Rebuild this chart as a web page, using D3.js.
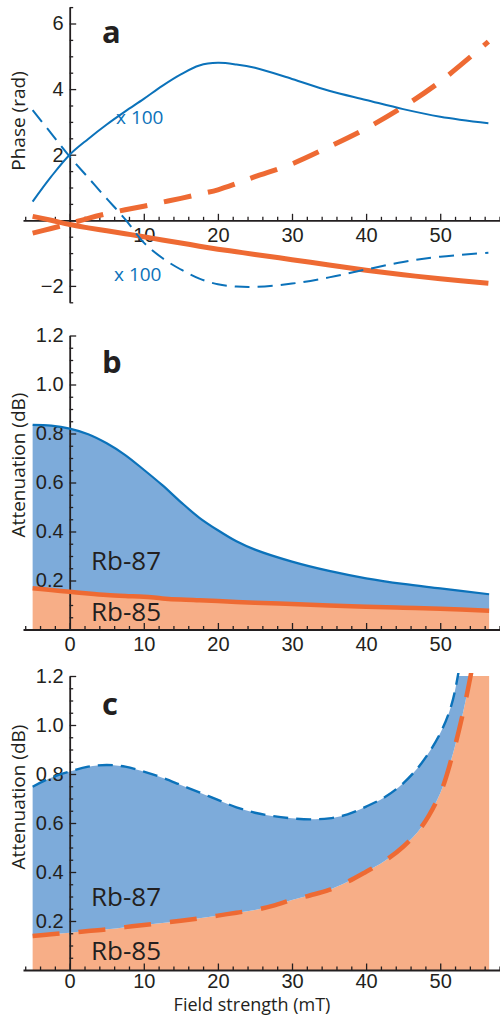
<!DOCTYPE html>
<meta charset="utf-8">
<head>
    <style>
        body { margin: 0; background: #fff; }
        .tick text { font-family: "Liberation Sans", Arial, sans-serif; font-size: 20px; fill: #231F20; }
        .lbl { font-family: "Open Sans", sans-serif; fill: #231F20; }
    </style>
    <script src="https://d3js.org/d3.v7.min.js"></script>
</head>
<div id="chart"></div>

<script>

// ---- data ----
// panel a : phase vs field
var fieldA = [-5,-2.5,0,2.5,5,7.5,10,12.5,15,17.5,20,22.5,25,30,35,40,45,50,56.5];
var phase87 = [0.57,1.33,2.0,2.48,2.92,3.32,3.7,4.1,4.45,4.72,4.8,4.75,4.65,4.31,3.95,3.67,3.39,3.16,2.96];      // x 100
var phase87dash = [3.36,2.65,1.94,1.3,0.66,0.03,-0.68,-1.15,-1.5,-1.78,-1.95,-2.02,-2.03,-1.93,-1.74,-1.5,-1.27,-1.11,-0.99]; // x 100
var phase85 = [0.12,0.0,-0.13,-0.23,-0.32,-0.41,-0.5,-0.6,-0.69,-0.79,-0.88,-0.96,-1.04,-1.2,-1.36,-1.52,-1.66,-1.78,-1.92];
var phase85dash = [-0.39,-0.25,-0.1,0.06,0.2,0.32,0.43,0.55,0.67,0.8,0.93,1.12,1.33,1.72,2.24,2.8,3.46,4.23,5.45];

// panel b : attenuation
var fieldB = [-5,-2.5,0,2.5,5,7.5,10,12.5,15,17.5,20,22.5,25,30,35,40,45,50,56.6];
var att87B = [0.835,0.832,0.82,0.797,0.76,0.712,0.652,0.589,0.52,0.456,0.405,0.36,0.326,0.277,0.239,0.209,0.186,0.168,0.144];
var att85B = [0.168,0.161,0.154,0.147,0.141,0.137,0.134,0.127,0.122,0.119,0.116,0.112,0.109,0.104,0.098,0.093,0.089,0.085,0.077];

// panel c : attenuation
var fieldC = [-5,-2.5,0,2.5,5,7.5,10,12.5,15,17.5,20,22.5,25,27.5,30,32.5,35,37.5,40,42.5,45,47.5,50,51.5,52.5,53.5,54.5,55.5,56.6];
var att87C = [0.748,0.785,0.81,0.83,0.837,0.83,0.81,0.785,0.755,0.725,0.694,0.664,0.642,0.628,0.619,0.615,0.619,0.635,0.667,0.705,0.762,0.845,0.966,1.08,1.22,1.4,1.6,1.85,2.1];
var att85C = [0.139,0.146,0.152,0.159,0.166,0.175,0.184,0.192,0.201,0.211,0.222,0.234,0.245,0.263,0.286,0.305,0.327,0.36,0.401,0.445,0.503,0.585,0.721,0.86,0.975,1.11,1.27,1.5,1.8];

var xMajor = [0,10,20,30,40,50];
var phaseTicks = [-2,0,2,4,6];
var attTicks = [0.2,0.4,0.6,0.8,1.0,1.2];

var blue = "#0B72BA", orange = "#EE6A33",
    blueFill = "#7DABDA", orangeFill = "#F7AE87", ink = "#231F20";

var W = 500, H = 1017;
var curve = d3.curveCatmullRom.alpha(0.5);

var svg = d3.select("#chart")
  .append("svg")
    .attr("width", W)
    .attr("height", H);

// shared x scale
var x = d3.scaleLinear().domain([-6.3, 58]).range([23, 499.5]);

var yA = d3.scaleLinear().domain([-2.5, 6.5]).range([302.3, 7.1]);
var yB = d3.scaleLinear().domain([0, 1.2]).range([629.5, 335.5]);
var yC = d3.scaleLinear().domain([0, 1.2]).range([970, 676]);

function zip(xs, ys) { return xs.map(function(v, i) { return {x: v, y: ys[i]}; }); }
function zip2(xs, lo, hi) { return xs.map(function(v, i) { return {x: v, lo: lo[i], hi: hi[i]}; }); }

function xAxis(yScale, showZero, pad) {
    var g = svg.append("g").attr("transform", "translate(0," + yScale(0) + ")");
    // minor ticks
    g.append("g")
      .call(d3.axisBottom(x).tickValues(d3.range(-6, 59, 2).filter(function(d){ return d % 10 != 0; }))
        .tickSizeInner(-3.5).tickSizeOuter(0).tickFormat(""))
      .call(function(s){ s.select(".domain").remove(); });
    g.append("g")
      .call(d3.axisBottom(x).tickValues(xMajor).tickSizeInner(-6.5).tickSizeOuter(0).tickPadding(pad)
        .tickFormat(function(d){ return (d == 0 && !showZero) ? "" : d; }));
    g.selectAll("line").attr("stroke", ink).attr("stroke-width", 1.3);
    g.selectAll(".domain").attr("stroke", ink).attr("stroke-width", 1.8);
    g.selectAll("text").attr("dy", "0.72em");
    return g;
}

function yAxis(yScale, majors, minors, fmt) {
    var g = svg.append("g").attr("transform", "translate(" + x(0) + ",0)");
    g.append("g")
      .call(d3.axisLeft(yScale).tickValues(minors).tickSizeInner(-3.5).tickSizeOuter(0).tickFormat(""))
      .call(function(s){ s.select(".domain").remove(); });
    g.append("g")
      .call(d3.axisLeft(yScale).tickValues(majors).tickSizeInner(-6.5).tickSizeOuter(0).tickPadding(6)
        .tickFormat(fmt));
    g.selectAll("line").attr("stroke", ink).attr("stroke-width", 1.3);
    g.selectAll(".domain").attr("stroke", ink).attr("stroke-width", 1.8);
    return g;
}

function drawLine(data, yScale, color, width, dash, clip) {
    var p = svg.append("path")
      .datum(data)
      .attr("fill", "none")
      .attr("stroke", color)
      .attr("stroke-width", width)
      .attr("d", d3.line().curve(curve)
          .x(function(d) { return x(d.x); })
          .y(function(d) { return yScale(d.y); }));
    if (dash) p.attr("stroke-dasharray", dash);
    if (clip) p.attr("clip-path", clip);
    return p;
}

function drawFills(field, lo, hi, yScale, clip) {
    var g = svg.append("g");
    if (clip) g.attr("clip-path", clip);
    g.append("path")
      .datum(zip(field, lo))
      .attr("fill", orangeFill)
      .attr("d", d3.area().curve(curve)
          .x(function(d) { return x(d.x); })
          .y0(yScale(0))
          .y1(function(d) { return yScale(d.y); }));
    g.append("path")
      .datum(zip2(field, lo, hi))
      .attr("fill", blueFill)
      .attr("d", d3.area().curve(curve)
          .x(function(d) { return x(d.x); })
          .y0(function(d) { return yScale(d.lo); })
          .y1(function(d) { return yScale(d.hi); }));
}

function label(txt, px, py, size, opts) {
    var t = svg.append("text")
      .attr("class", "lbl")
      .attr("x", px)
      .attr("y", py)
      .style("font-size", size + "px")
      .text(txt);
    if (opts && opts.bold) t.style("font-weight", "bold");
    if (opts && opts.color) t.style("fill", opts.color);
    if (opts && opts.rotate) t.attr("text-anchor", "middle").attr("transform", "rotate(-90," + px + "," + py + ")");
    if (opts && opts.anchor) t.attr("text-anchor", opts.anchor);
    return t;
}

var attMinor = d3.range(1, 24).map(function(i){ return i * 0.05; }).filter(function(d, i){ return (i + 1) % 4 != 0; });

// clip for panel c (values above 1.2 are cut)
var defs = svg.append("defs");
defs.append("clipPath").attr("id", "clipC")
  .append("rect").attr("x", 0).attr("y", yC(1.2)).attr("width", W).attr("height", yC(0) - yC(1.2) + 5);
defs.append("clipPath").attr("id", "clipCline")
  .append("rect").attr("x", 0).attr("y", yC(1.2) - 3).attr("width", W).attr("height", yC(0) - yC(1.2) + 8);

// ---------- panel a ----------
xAxis(yA, false, 7.5);
yAxis(yA, phaseTicks, d3.range(-2.5, 6.6, 0.5).filter(function(d){ return d % 2 != 0; }),
      function(d){ return d == 0 ? "" : d3.format("")(d); });

drawLine(zip(fieldA, phase85), yA, orange, 5);
drawLine(zip(fieldA, phase85dash), yA, orange, 5, "28,17");
drawLine(zip(fieldA, phase87), yA, blue, 2);
drawLine(zip(fieldA, phase87dash), yA, blue, 2, "15,8");

label("a", 102, 43, 31, {bold: true});
label("x 100", 116, 124, 19, {color: blue});
label("x 100", 114, 281, 19, {color: blue});
label("Phase (rad)", 25, 121, 19, {rotate: true});

// ---------- panel b ----------
drawFills(fieldB, att85B, att87B, yB);
xAxis(yB, true, 7);
yAxis(yB, attTicks, attMinor, d3.format(".1f"));
drawLine(zip(fieldB, att87B), yB, blue, 2.2);
drawLine(zip(fieldB, att85B), yB, orange, 4.5);

label("b", 102, 373, 31, {bold: true});
label("Rb-87", 91, 570, 26);
label("Rb-85", 91, 621, 26);
label("Attenuation (dB)", 25, 465, 19, {rotate: true});

// ---------- panel c ----------
drawFills(fieldC, att85C, att87C, yC, "url(#clipC)");
xAxis(yC, true, 4);
yAxis(yC, attTicks, attMinor, d3.format(".1f"));
drawLine(zip(fieldC, att87C), yC, blue, 2.4, "15,8", "url(#clipCline)");
drawLine(zip(fieldC, att85C), yC, orange, 4.5, "27,19", "url(#clipCline)");

label("c", 102, 715, 31, {bold: true});
label("Rb-87", 91, 906, 26);
label("Rb-85", 91, 960, 26);
label("Attenuation (dB)", 25, 797, 19, {rotate: true});
label("Field strength (mT)", 252, 1011, 18, {anchor: "middle"});

</script>
